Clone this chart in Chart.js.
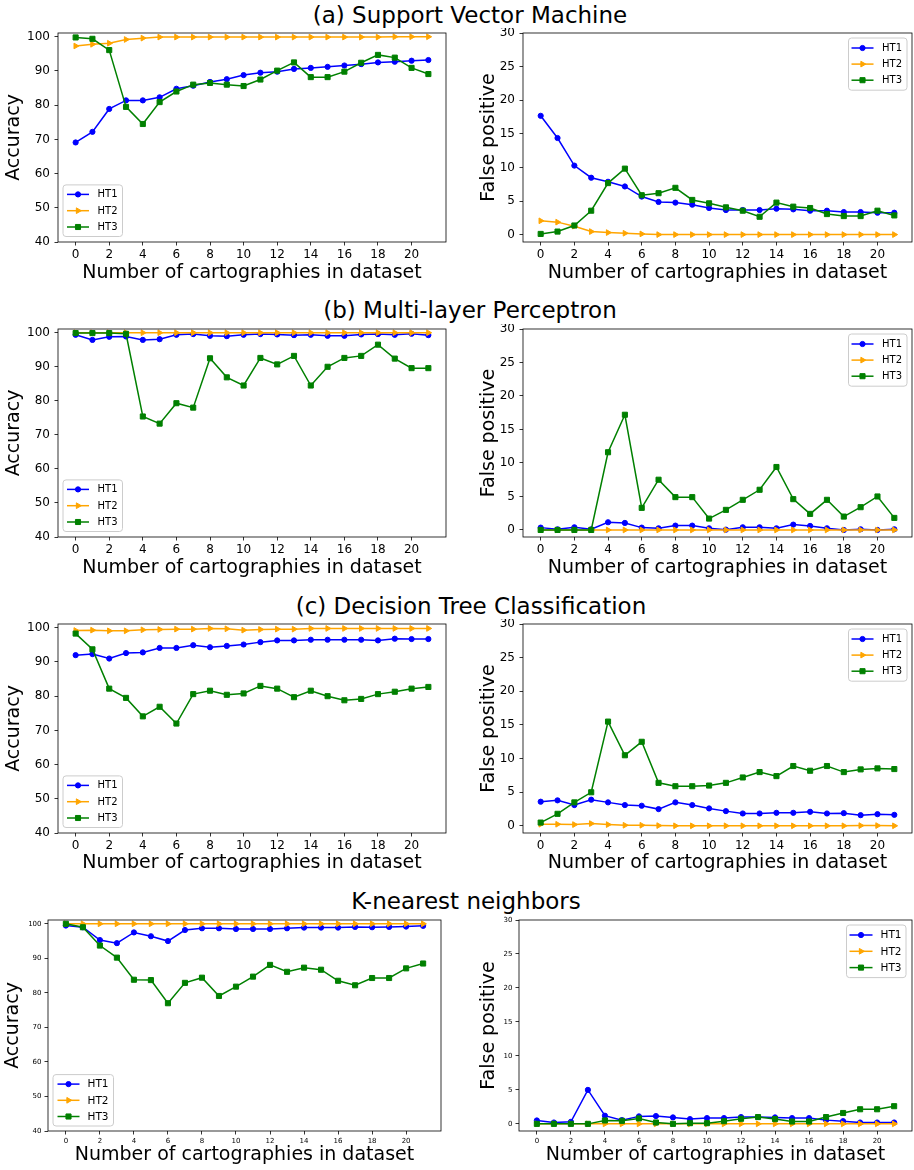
<!DOCTYPE html>
<html><head><meta charset="utf-8">
<script src="https://cdn.jsdelivr.net/npm/chart.js@4.4.0/dist/chart.umd.min.js"></script>
<style>
html,body{margin:0;padding:0;background:#fff;}
#fig{position:relative;width:914px;height:1170px;overflow:hidden;font-family:"DejaVu Sans";background:#fff;}
.ttl{position:absolute;font-size:23px;line-height:30px;height:30px;text-align:center;color:#000;white-space:nowrap;width:500px;}
.cv{position:absolute;}
</style></head><body><div id="fig"></div>
<script>
// ---------- categories / ticks ----------
const categories = [0,1,2,3,4,5,6,7,8,9,10,11,12,13,14,15,16,17,18,19,20,21];
const xTickValues = [0,2,4,6,8,10,12,14,16,18,20];
const accTickValues = [40,50,60,70,80,90,100];
const fpTickValues = [0,5,10,15,20,25,30];
const seriesNames = ['HT1','HT2','HT3'];
const rowTitles = ['(a) Support Vector Machine','(b) Multi-layer Perceptron','(c) Decision Tree Classification','K-nearest neighbors'];
const xAxisTitle = 'Number of cartographies in dataset';
const accAxisTitle = 'Accuracy';
const fpAxisTitle = 'False positive';

// ---------- SVM ----------
const svmAccHT1 = [69.1,72.2,78.9,81.4,81.4,82.3,84.8,85.7,86.8,87.6,88.8,89.5,89.8,90.6,90.9,91.2,91.6,92.0,92.5,92.7,93.0,93.2];
const svmAccHT2 = [97.3,97.8,98.1,99.2,99.6,99.9,99.9,99.9,99.9,99.9,99.9,99.9,99.9,99.9,99.9,99.9,99.9,99.9,99.9,100,100,100];
const svmAccHT3 = [99.8,99.4,96.1,79.5,74.5,80.9,84.0,86.0,86.5,86.0,85.6,87.5,90.1,92.5,88.2,88.2,89.8,92.4,94.7,93.9,90.9,89.1];
const svmFpHT1 = [17.7,14.4,10.3,8.5,7.9,7.2,5.7,4.9,4.8,4.5,4.0,3.7,3.7,3.7,3.9,3.8,3.6,3.6,3.4,3.4,3.3,3.3];
const svmFpHT2 = [2.1,1.9,1.3,0.5,0.35,0.25,0.15,0.05,0.05,0.05,0.05,0.05,0.05,0.05,0.05,0.05,0.05,0.05,0.05,0.05,0.05,0.05];
const svmFpHT3 = [0.15,0.5,1.4,3.6,7.7,9.85,5.9,6.2,7.0,5.2,4.7,4.1,3.6,2.7,4.8,4.2,4.0,3.1,2.8,2.8,3.6,2.9];
// ---------- MLP ----------
const mlpAccHT1 = [99.4,97.9,98.8,98.9,97.9,98.1,99.4,99.6,99.1,99.0,99.4,99.6,99.5,99.3,99.4,99.1,99.1,99.5,99.6,99.4,99.7,99.3];
const mlpAccHT2 = [100,100,100,100,100,100,100,100,100,100,100,100,100,100,100,100,100,100,100,100,100,100];
const mlpAccHT3 = [99.9,99.9,99.9,99.7,75.4,73.3,79.3,78.0,92.5,86.9,84.5,92.6,90.7,93.2,84.5,90.0,92.6,93.2,96.5,92.4,89.6,89.6];
const mlpFpHT1 = [0.35,0.1,0.4,0.1,1.15,1.05,0.35,0.25,0.65,0.65,0.25,0.05,0.4,0.4,0.25,0.8,0.6,0.25,0.0,0.1,0.0,0.1];
const mlpFpHT2 = [0,0,0,0,0,0,0,0,0,0,0,0,0,0,0,0,0,0,0,0,0,0];
const mlpFpHT3 = [0,0,0,0,11.6,17.2,3.3,7.5,4.9,4.9,1.7,3.0,4.5,6.0,9.4,4.6,2.4,4.5,2.0,3.4,5.0,1.8];
// ---------- Decision tree ----------
const dtAccHT1 = [92.0,92.3,91.0,92.6,92.8,94.1,94.1,94.9,94.3,94.7,95.1,95.8,96.3,96.3,96.5,96.5,96.5,96.5,96.3,96.8,96.7,96.7];
const dtAccHT2 = [99.2,99.3,99.1,99.1,99.4,99.5,99.6,99.6,99.8,99.7,99.3,99.5,99.6,99.6,99.8,99.8,99.8,99.8,99.8,99.8,99.8,99.8];
const dtAccHT3 = [98.3,93.7,82.2,79.5,74.1,76.9,72.0,80.6,81.6,80.4,80.8,83.0,82.2,79.7,81.6,80.0,78.8,79.2,80.6,81.3,82.2,82.7];
const dtFpHT1 = [3.6,3.8,3.1,3.9,3.5,3.1,3.0,2.5,3.5,3.1,2.6,2.2,1.85,1.85,1.95,1.95,2.1,1.85,1.9,1.6,1.75,1.65];
const dtFpHT2 = [0.25,0.25,0.2,0.35,0.2,0.1,0.1,0.05,0.02,0.02,0.02,0.02,0.02,0.02,0.02,0.02,0.02,0.02,0.02,0.05,0.05,0.02];
const dtFpHT3 = [0.5,1.8,3.5,5.0,15.5,10.5,12.5,6.4,5.9,5.9,6.0,6.4,7.2,8.0,7.4,8.9,8.2,8.9,8.0,8.4,8.55,8.45];
// ---------- KNN ----------
const knnAccHT1 = [99.5,99.0,95.3,94.4,97.5,96.4,95.0,98.2,98.7,98.7,98.5,98.5,98.5,98.7,98.9,98.9,98.9,99.1,99.0,99.1,99.2,99.4];
const knnAccHT2 = [100,100,100,100,100,100,100,100,100,100,100,100,100,100,100,100,100,100,100,100,100,100];
const knnAccHT3 = [100,99.0,93.7,90.2,83.8,83.7,77.0,82.9,84.4,79.1,81.8,84.7,88.1,86.1,87.3,86.7,83.5,82.2,84.3,84.3,87.1,88.5];
const knnFpHT1 = [0.5,0.2,0.3,5.0,1.2,0.55,1.1,1.15,0.95,0.7,0.85,0.85,1.0,1.0,0.95,0.85,0.85,0.55,0.4,0.2,0.2,0.2];
const knnFpHT2 = [0,0,0,0,0,0,0,0,0,0,0,0,0,0,0,0,0,0,0,0,0,0];
const knnFpHT3 = [0,0,0,0,0.5,0.45,0.8,0.2,0,0.1,0.1,0.4,0.75,1.0,0.7,0.35,0.35,1.0,1.6,2.15,2.15,2.6];

// ---------- styling ----------
const FONT = 'DejaVu Sans';
const seriesColors = ['#0000ff','#ffa500','#008000'];
const seriesStyles = ['circle','triangle','rect'];
const seriesRot = [0,90,0];
const seriesRadius = [2.6,3.3,3.6];

const fig = document.getElementById('fig');

const boxPlugin = {
  id:'mplBox',
  afterDatasetsDraw(chart){
    const ca = chart.chartArea, ctx = chart.ctx;
    ctx.save();
    ctx.strokeStyle = '#000'; ctx.lineWidth = 0.8;
    ctx.strokeRect(ca.left, ca.top, ca.right-ca.left, ca.bottom-ca.top);
    ctx.restore();
  }
};

function rrect(ctx,x,y,w,h,r){
  ctx.beginPath();
  ctx.moveTo(x+r,y); ctx.lineTo(x+w-r,y); ctx.arcTo(x+w,y,x+w,y+r,r);
  ctx.lineTo(x+w,y+h-r); ctx.arcTo(x+w,y+h,x+w-r,y+h,r);
  ctx.lineTo(x+r,y+h); ctx.arcTo(x,y+h,x,y+h-r,r);
  ctx.lineTo(x,y+r); ctx.arcTo(x,y,x+r,y,r); ctx.closePath();
}

const legendPlugin = {
  id:'mplLegend',
  afterDraw(chart, args, o){
    const ctx = chart.ctx, ca = chart.chartArea;
    const dss = chart.data.datasets;
    ctx.save();
    ctx.font = o.fontSize + 'px "' + FONT + '"';
    const tw = Math.max(...dss.map(d=>ctx.measureText(d.label).width));
    const w = o.padL + o.handleLen + o.textPad + tw + o.padR;
    const h = o.padV*2 + (dss.length-1)*o.rowH;
    let x0, y0;
    if (o.loc === 'll') { x0 = ca.left + o.insetX; y0 = ca.bottom - o.insetY - h; }
    else { x0 = ca.right - o.insetX - w; y0 = ca.top + o.insetY; }
    rrect(ctx, x0, y0, w, h, 3);
    ctx.fillStyle = 'rgba(255,255,255,0.8)'; ctx.fill();
    ctx.strokeStyle = '#cccccc'; ctx.lineWidth = 1; ctx.stroke();
    dss.forEach((d,i)=>{
      const cy = y0 + o.padV + i*o.rowH;
      const hx0 = x0 + o.padL, hx1 = hx0 + o.handleLen;
      ctx.strokeStyle = d.borderColor; ctx.lineWidth = d.borderWidth;
      ctx.beginPath(); ctx.moveTo(hx0, cy); ctx.lineTo(hx1, cy); ctx.stroke();
      ctx.fillStyle = d.pointBackgroundColor; ctx.strokeStyle = d.pointBorderColor; ctx.lineWidth = d.pointBorderWidth;
      Chart.helpers.drawPoint(ctx, {pointStyle:d.pointStyle, rotation:d.pointRotation, radius:d.pointRadius, borderWidth:d.pointBorderWidth}, (hx0+hx1)/2, cy);
      ctx.fillStyle = '#000'; ctx.textBaseline = 'middle'; ctx.textAlign = 'left';
      ctx.fillText(d.label, hx1 + o.textPad, cy + 0.5);
    });
    ctx.restore();
  }
};

function addTitle(text, centerX, centerY){
  const d = document.createElement('div');
  d.className = 'ttl';
  d.textContent = text;
  d.style.left = (centerX - 250) + 'px';
  d.style.top = (centerY - 15) + 'px';
  fig.appendChild(d);
}

function makePanel(p){
  const div = document.createElement('div');
  div.className = 'cv';
  div.style.left = p.cx+'px'; div.style.top = p.cy+'px';
  div.style.width = p.cw+'px'; div.style.height = p.ch+'px';
  const canvas = document.createElement('canvas');
  div.appendChild(canvas);
  fig.appendChild(div);
  const yW = p.pl - p.cx, xH = (p.cy + p.ch) - p.pb;
  const padTop = p.pt - p.cy, padRight = (p.cx + p.cw) - p.pr;
  const titleLH = 19*1.2;
  const xTitlePad = (p.cy + p.ch) - p.xTitleY - titleLH/2;
  const yTitlePad = p.yTitleX - p.cx - titleLH/2;
  const isAcc = p.kind === 'acc';
  const yTicks = isAcc ? accTickValues : fpTickValues;
  const datasets = p.series.map((s,i)=>({
    label: seriesNames[i],
    data: categories.map((c,j)=>({x:c, y:s[j]})),
    borderColor: seriesColors[i], backgroundColor: seriesColors[i],
    pointBackgroundColor: seriesColors[i], pointBorderColor: seriesColors[i],
    borderWidth: 1.5, pointRadius: seriesRadius[i], pointBorderWidth: 1,
    pointStyle: seriesStyles[i], pointRotation: seriesRot[i],
    tension: 0, fill: false, order: 3 - i
  }));
  const fitX = s => { s.height = xH; s.paddingLeft=0; s.paddingRight=0; s.paddingTop=0; s.paddingBottom=0; };
  const fitY = s => { s.width = yW; s.paddingLeft=0; s.paddingRight=0; s.paddingTop=0; s.paddingBottom=0; };
  new Chart(canvas, {
    type: 'line',
    data: { datasets },
    options: {
      responsive: true, maintainAspectRatio: false, animation: false, devicePixelRatio: 1,
      events: [],
      layout: { autoPadding: false, padding: {top: padTop, right: padRight, left: 0, bottom: 0} },
      plugins: {
        legend: {display:false}, tooltip: {enabled:false},
        mplLegend: p.legend
      },
      scales: {
        x: {
          type: 'linear', position: 'bottom', bounds: 'data', min: -1.05, max: 22.05,
          afterBuildTicks: s => { s.ticks = xTickValues.map(v=>({value:v})); },
          afterFit: fitX,
          grid: {display:true, drawOnChartArea:false, drawTicks:true, tickLength:p.tickLen, color:'#000', lineWidth:0.8},
          border: {display:false},
          ticks: {font:{family:FONT, size:p.tickSize}, color:'#000', padding:p.xPad, maxRotation:0, autoSkip:false, callback: v => String(v)},
          title: {display:true, text:xAxisTitle, font:{family:FONT, size:19}, color:'#000', padding:{top:0, bottom:xTitlePad}}
        },
        y: {
          type: 'linear', position: 'left', bounds: 'data', min: isAcc ? 40 : -1.05, max: isAcc ? 101.1 : 30,
          afterBuildTicks: s => { s.ticks = yTicks.map(v=>({value:v})); },
          afterFit: fitY,
          grid: {display:true, drawOnChartArea:false, drawTicks:true, tickLength:p.tickLen, color:'#000', lineWidth:0.8},
          border: {display:false},
          ticks: {font:{family:FONT, size:p.tickSize}, color:'#000', padding:p.yPad, autoSkip:false, callback: v => String(v)},
          title: {display:true, text: isAcc ? accAxisTitle : fpAxisTitle, font:{family:FONT, size:19}, color:'#000', padding:{top:yTitlePad, bottom:0}}
        }
      }
    },
    plugins: [boxPlugin, legendPlugin]
  });
}

const legLL = {loc:'ll', fontSize:10, padL:4, handleLen:22, textPad:8.5, padR:5, padV:9.5, rowH:16.3, insetX:5, insetY:5.5};
const legUR = {loc:'ur', fontSize:10, padL:3, handleLen:22, textPad:8.5, padR:5, padV:10, rowH:16.1, insetX:5, insetY:5};
const legLLk = {loc:'ll', fontSize:10.5, padL:4.5, handleLen:22, textPad:8, padR:5, padV:9.5, rowH:16.2, insetX:5, insetY:5};
const legURk = {loc:'ur', fontSize:10.5, padL:3, handleLen:23, textPad:8, padR:4.5, padV:10, rowH:16.3, insetX:6, insetY:5};

const rows = [
  {cy:28,  ch:262, pt:33,  pb:242,  xTitleY:273, acc:[svmAccHT1,svmAccHT2,svmAccHT3], fp:[svmFpHT1,svmFpHT2,svmFpHT3], knn:false},
  {cy:324, ch:261, pt:329, pb:537,  xTitleY:568, acc:[mlpAccHT1,mlpAccHT2,mlpAccHT3], fp:[mlpFpHT1,mlpFpHT2,mlpFpHT3], knn:false},
  {cy:619, ch:261, pt:624, pb:833,  xTitleY:863, acc:[dtAccHT1,dtAccHT2,dtAccHT3],    fp:[dtFpHT1,dtFpHT2,dtFpHT3],    knn:false},
  {cy:915, ch:255, pt:920, pb:1131, xTitleY:1155, acc:[knnAccHT1,knnAccHT2,knnAccHT3], fp:[knnFpHT1,knnFpHT2,knnFpHT3], knn:true}
];
const titleCenters = [[470,14.5],[470,310],[471,605.5],[466,900.5]];

rows.forEach((r,i)=>{
  addTitle(rowTitles[i], titleCenters[i][0], titleCenters[i][1]);
  const tickSize = r.knn ? 7 : 12, tickLen = 3.5;
  const xPad = r.knn ? 2 : 2, yPad = r.knn ? 3 : 4.5;
  makePanel({kind:'acc', cx:0, cy:r.cy, cw:460, ch:r.ch,
    pl: r.knn ? 48 : 58, pt:r.pt, pr: r.knn ? 441 : 446, pb:r.pb,
    yTitleX: r.knn ? 13.5 : 14, xTitleY:r.xTitleY, tickSize, tickLen, xPad, yPad,
    series:r.acc, legend: r.knn ? legLLk : legLL});
  makePanel({kind:'fp', cx:470, cy:r.cy, cw:444, ch:r.ch,
    pl: r.knn ? 519 : 523, pt:r.pt, pr:912, pb:r.pb,
    yTitleX: 489, xTitleY:r.xTitleY, tickSize, tickLen, xPad, yPad,
    series:r.fp, legend: r.knn ? legURk : legUR});
});
</script>
</body></html>
